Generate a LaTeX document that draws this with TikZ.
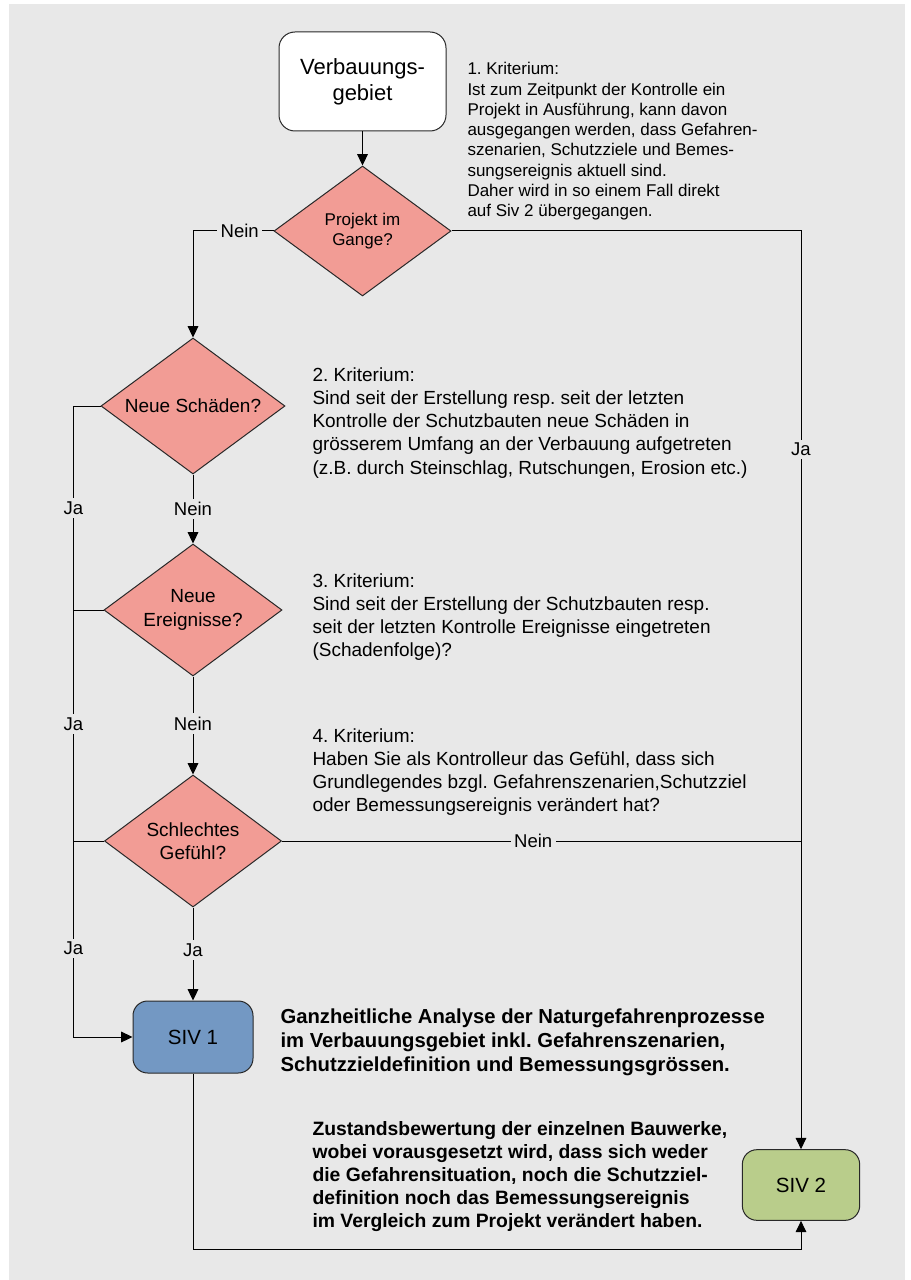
\documentclass[tikz,border=0pt]{standalone}
\usepackage{fontspec}
\setmainfont{Liberation Sans}
\usetikzlibrary{shapes.geometric,arrows.meta}
\definecolor{bggray}{RGB}{232,232,232}
\definecolor{salmon}{RGB}{242,156,149}
\definecolor{sivblue}{RGB}{115,152,195}
\definecolor{sivgreen}{RGB}{185,205,139}
\definecolor{edgegray}{RGB}{40,40,40}
\frenchspacing

\begin{document}
\begin{tikzpicture}[
    x=0.75pt, y=-0.75pt,
    >={Triangle[length=8.5pt,width=8pt]},
    line width=0.75pt,
    start/.style={draw=edgegray, fill=white, rectangle, rounded corners=12pt, minimum width=125.25pt, minimum height=74.25pt, align=center, font=\fontsize{16.5}{19.5}\selectfont},
    decision/.style={draw=edgegray, fill=salmon, diamond, aspect=1.35, inner sep=0pt, align=center, font=\fontsize{14.25}{17.5}\selectfont},
    siv/.style={draw=edgegray, rectangle, rounded corners=11pt, minimum width=88pt, minimum height=53pt, font=\fontsize{15.4}{18}\selectfont},
    crit/.style={anchor=north west, inner sep=0pt, align=left, font=\fontsize{14.25}{17.4}\selectfont},
    info/.style={anchor=north west, inner sep=0pt, align=left, font=\bfseries\fontsize{15.2}{18}\selectfont},
    lbl/.style={fill=bggray, inner xsep=2.5pt, inner ysep=2.5pt, font=\fontsize{13.9}{16}\selectfont}
]

    \useasboundingbox (0, 0) rectangle (910, 1280);
    \fill [bggray] (9, 4) rectangle (905, 1280);

    \node [start] (gebiet) at (362.5, 81.5) {Verbauungs-\\gebiet};
    \node [decision, minimum width=132.75pt, minimum height=97.5pt, font=\fontsize{12.75}{14.5}\selectfont] (projekt) at (362.5, 231) {Projekt im\\Gange?};
    \node [decision, minimum width=138pt, minimum height=102pt] (schaden) at (193, 406) {Neue Schäden?};
    \node [decision, minimum width=133.5pt, minimum height=99pt] (ereignis) at (193, 610) {Neue\\Ereignisse?};
    \node [decision, minimum width=132.75pt, minimum height=99pt] (gefuehl) at (193, 841) {Schlechtes\\Gefühl?};
    \node [siv, fill=sivblue, minimum width=90pt, minimum height=54pt] (siv1) at (193, 1037) {SIV 1};
    \node [siv, fill=sivgreen] (siv2) at (801, 1185) {SIV 2};

    \node [crit, font=\fontsize{12.75}{15.2}\selectfont] (krit1) at (467, 62) {1. Kriterium:\\Ist zum Zeitpunkt der Kontrolle ein\\Projekt in Ausführung, kann davon\\ausgegangen werden, dass Gefahren-\\szenarien, Schutzziele und Bemes-\\sungsereignis aktuell sind.\\Daher wird in so einem Fall direkt\\auf Siv 2 übergegangen.};
    \node [crit] (krit2) at (312, 367) {2. Kriterium:\\Sind seit der Erstellung resp. seit der letzten\\Kontrolle der Schutzbauten neue Schäden in\\grösserem Umfang an der Verbauung aufgetreten\\(z.B. durch Steinschlag, Rutschungen, Erosion etc.)};
    \node [crit] (krit3) at (312, 573) {3. Kriterium:\\Sind seit der Erstellung der Schutzbauten resp.\\seit der letzten Kontrolle Ereignisse eingetreten\\(Schadenfolge)?};
    \node [crit] (krit4) at (312, 728) {4. Kriterium:\\Haben Sie als Kontrolleur das Gefühl, dass sich\\Grundlegendes bzgl. Gefahrenszenarien,Schutzziel\\oder Bemessungsereignis verändert hat?};
    \node [info] (info1) at (280, 1008) {Ganzheitliche Analyse der Naturgefahrenprozesse\\im Verbauungsgebiet inkl. Gefahrenszenarien,\\Schutzzieldefinition und Bemessungsgrössen.};
    \node [info, font=\bfseries\fontsize{14.5}{17.3}\selectfont] (info2) at (312, 1121) {Zustandsbewertung der einzelnen Bauwerke,\\wobei vorausgesetzt wird, dass sich weder\\die Gefahrensituation, noch die Schutzziel-\\definition noch das Bemessungsereignis\\im Vergleich zum Projekt verändert haben.};

    \draw [->] (gebiet) -- (projekt);
    \draw [->] (projekt.west) -| node [lbl, pos=0.21] {Nein} (schaden.north);
    \draw [->] (projekt.east) -| node [lbl, pos=0.619] {Ja} (siv2.north);
    \draw [->] (schaden) -- node [lbl] {Nein} (ereignis);
    \draw [->] (ereignis) -- node [lbl, pos=0.48] {Nein} (gefuehl);
    \draw [->] (gefuehl) -- node [lbl, pos=0.46] {Ja} (siv1);
    \draw [->] (schaden.west) -- ++(-27, 0) coordinate (jaline) |- node [lbl, pos=0.081] {Ja} node [lbl, pos=0.252] {Ja} node [lbl, pos=0.43] {Ja} (siv1.west);
    \draw (ereignis.west) -- (ereignis.west -| jaline);
    \draw (gefuehl.west) -- (gefuehl.west -| jaline);
    \draw (gefuehl.east) -- node [lbl, pos=0.484] {Nein} (gefuehl.east -| siv2.north);
    \draw [->] (siv1.south) -- ++(0, 176) -| (siv2.south);

\end{tikzpicture}
\end{document}
